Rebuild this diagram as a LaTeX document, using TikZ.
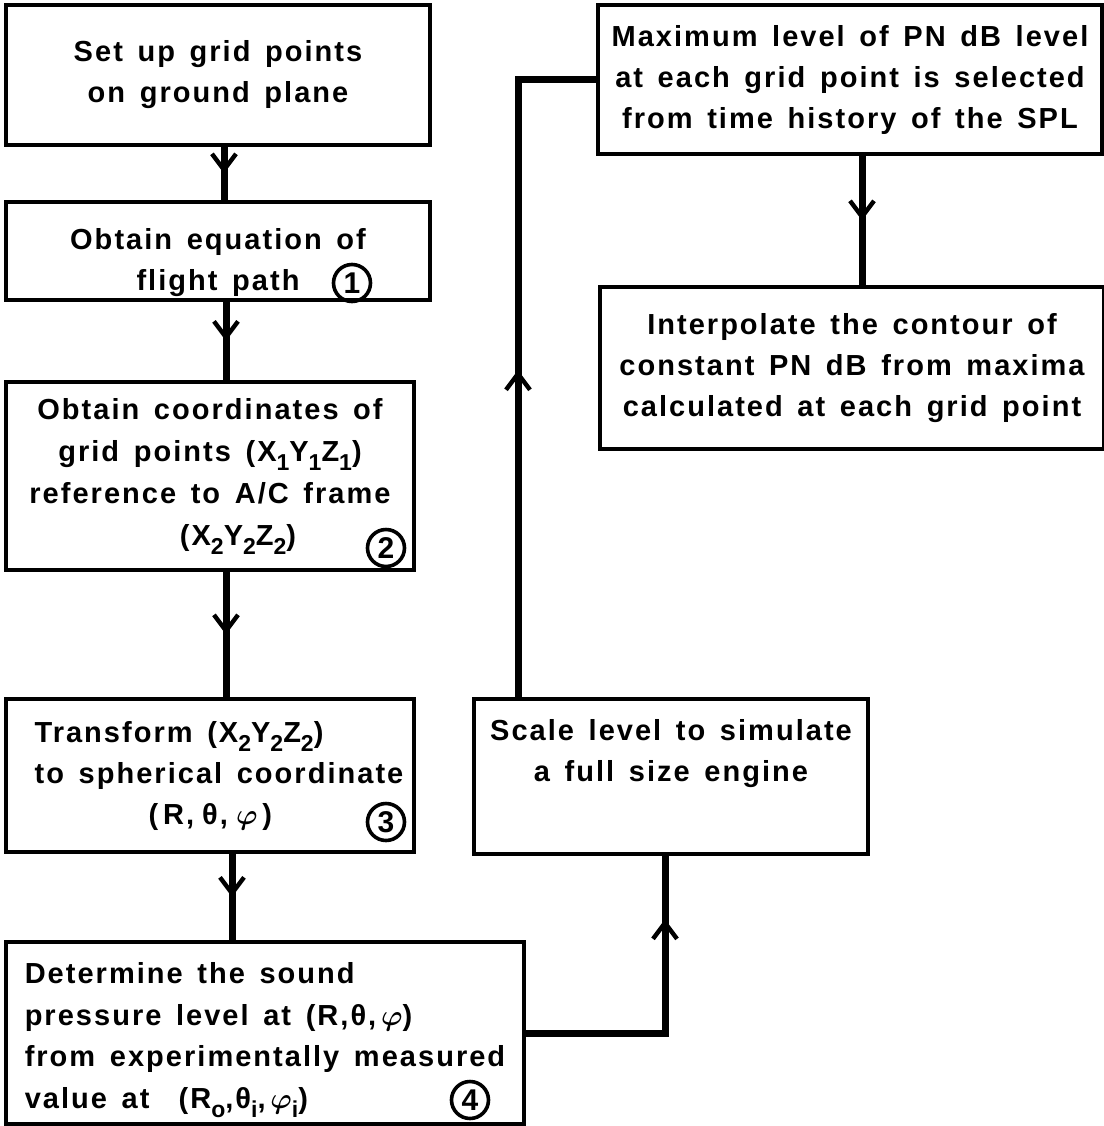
\documentclass[tikz,border=0pt]{standalone}
\usepackage{fontspec}
\setmainfont{Liberation Sans}[LetterSpace=7,WordSpace=1.45]
\usetikzlibrary{arrows.meta,decorations.markings,positioning}

\newcommand{\lowidx}[1]{\raisebox{-4.5pt}{\fontsize{11.5}{11.5}\selectfont#1}}
\newcommand{\phiv}{{\boldmath$\varphi$}}

\tikzset{
  box/.style={draw,line width=2pt,rectangle,anchor=north west,inner sep=0pt,align=center,
    font=\fontsize{14.5}{20.5}\selectfont\bfseries},
  flow/.style={line width=3.5pt,postaction={decorate},
    decoration={markings,mark=at position #1 with {\arrow{Straight Barb[line width=2.2pt,length=8pt,width=12pt]}}}},
  flow/.default=0.5,
  numcirc/.style={draw,circle,line width=1.8pt,minimum size=18.5pt,inner sep=0pt,
    font=\fontsize{15}{15}\selectfont\bfseries\addfontfeature{LetterSpace=0}}
}

\begin{document}
\begin{tikzpicture}[x=0.5pt,y=-0.5pt]
\useasboundingbox (0,0) rectangle (1104,1126);

% left column
\node[box,minimum width=212pt,minimum height=70pt] (b1) at (4,3) {Set up grid points\\on ground plane};
\node[box,minimum width=212pt,minimum height=49pt,text height=43pt] (b2) at (4,200) {Obtain equation of\\flight path};
\node[box,minimum width=204pt,minimum height=94pt,font=\fontsize{14.5}{21}\selectfont\bfseries] (b3) at (4,380)
  {Obtain coordinates of\\grid points (X\lowidx{1}Y\lowidx{1}Z\lowidx{1})\\reference to A/C frame\\\hspace*{28pt}(X\lowidx{2}Y\lowidx{2}Z\lowidx{2})};
\node[box,align=left,minimum width=204pt,minimum height=76.5pt] (b4) at (4,697)
  {\hspace*{9pt}Transform (X\lowidx{2}Y\lowidx{2}Z\lowidx{2})\\\hspace*{9pt}to spherical coordinate\\\hspace*{66pt}(\,R,\;θ,\;\phiv\,)};
\node[box,align=left,minimum width=259pt,minimum height=91pt,text height=80pt,
  font=\fontsize{14.5}{20.8}\selectfont\bfseries] (b5) at (4,940)
  {Determine the sound\\pressure level at (R,θ,\,\phiv)\\from experimentally measured\\value at\ \ (R\lowidx{o},θ\lowidx{i},\,\phiv\lowidx{i})};

% right column
\node[box,minimum width=197pt,minimum height=77.5pt,text depth=26pt] (b6) at (472,697) {Scale level to simulate\\a full size engine};
\node[box,minimum width=252pt,minimum height=74.5pt] (b7) at (596,3)
  {Maximum level of PN dB level\\at each grid point is selected\\from time history of the SPL};
\node[box,minimum width=252pt,minimum height=81pt] (b8) at (598,285)
  {Interpolate the contour of\\constant PN dB from maxima\\calculated at each grid point};

% step numbers
\node[numcirc] (c1) at (352,283) {1};
\node[numcirc] (c2) at (386,548) {2};
\node[numcirc] (c3) at (386,822) {3};
\node[numcirc] (c4) at (470,1100) {4};

% connectors
\draw[flow] ([xshift=3pt]b1.south) -- ([xshift=3pt]b1.south |- b2.north);
\draw[flow] ([xshift=4pt]b2.south) -- ([xshift=4pt]b2.south |- b3.north);
\draw[flow] ([xshift=8pt]b3.south) -- ([xshift=8pt]b3.south |- b4.north);
\draw[flow] ([xshift=11pt]b4.south) -- ([xshift=11pt]b4.south |- b5.north);
\draw[flow=0.8] (b5.east) -| ([xshift=-3pt]b6.south);
\draw[flow=0.47] ([xshift=23pt]b6.north west) |- (b7.west);
\draw[flow] ([xshift=6pt]b7.south) -- ([xshift=6pt]b7.south |- b8.north);

\end{tikzpicture}
\end{document}
